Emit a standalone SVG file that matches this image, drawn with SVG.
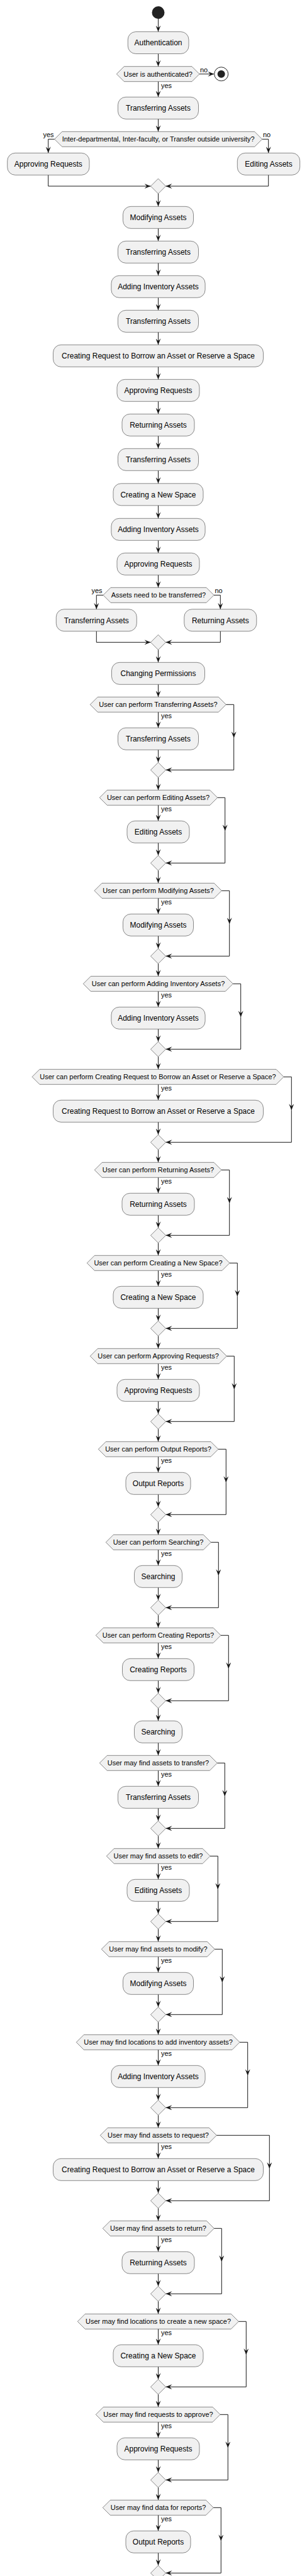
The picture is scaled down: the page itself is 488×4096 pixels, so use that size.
<svg xmlns="http://www.w3.org/2000/svg" width="488" height="4096" viewBox="0 0 488 4096">
<defs>
<style>
.b{fill:#F1F1F1;stroke:#181818;stroke-width:0.5}
.c{fill:none;stroke:#181818;stroke-width:1;marker-end:url(#a)}
text{font-family:"Liberation Sans",Arial,sans-serif;fill:#000000}
.t{font-size:12px;text-anchor:middle}
.q{font-size:11px;text-anchor:middle}
.l{font-size:11px}
.r{font-size:11px;text-anchor:end}
</style>
<marker id="a" viewBox="0 0 10 8" refX="10" refY="4" markerWidth="10" markerHeight="8" markerUnits="userSpaceOnUse" orient="auto"><path d="M0,0 L10,4 L0,8 L4,4 Z" fill="#181818"/></marker>
</defs>
<rect width="488" height="4096" fill="#FFFFFF"/>
<g id="connectors">
<path class="c" d="M251.5,30V50.5"/>
<path class="c" d="M251.5,85.5V105.7"/>
<path class="c" d="M317,117.7H340.4"/>
<path class="c" d="M251.5,129.7V154.3"/>
<path class="c" d="M251.5,189.3V209.3"/>
<path class="c" d="M86.7,221.3H76.7V243.3"/>
<path class="c" d="M416.7,221.3H426.7V243.3"/>
<path class="c" d="M76.7,278.3V296H239.5"/>
<path class="c" d="M426.7,278.3V296H263.5"/>
<path class="c" d="M251.5,308V328.3"/>
<path class="c" d="M251.5,363.3V383.3"/>
<path class="c" d="M251.5,418.3V438.3"/>
<path class="c" d="M251.5,473.3V493.3"/>
<path class="c" d="M251.5,528.3V548.3"/>
<path class="c" d="M251.5,583.3V603.3"/>
<path class="c" d="M251.5,638.3V658.3"/>
<path class="c" d="M251.5,693.3V713.3"/>
<path class="c" d="M251.5,748.3V768.8"/>
<path class="c" d="M251.5,803.8V824.3"/>
<path class="c" d="M251.5,859.3V879.3"/>
<path class="c" d="M251.5,914.3V934.3"/>
<path class="c" d="M164,946.3H153.3V968.7"/>
<path class="c" d="M340,946.3H350.3V968.7"/>
<path class="c" d="M153.3,1003.7V1021.3H239.5"/>
<path class="c" d="M350.3,1003.7V1021.3H263.5"/>
<path class="c" d="M251.5,1033.3V1053.3"/>
<path class="c" d="M251.5,1088.3V1108.3"/>
<path class="c" d="M251.5,1132.3V1157.3"/><path class="c" d="M251.5,1192.3V1212.3"/><path class="c" d="M359.3,1120.3H371.7V1173.3"/><path class="c" d="M371.7,1173.3V1224.3H263.5"/><path class="c" d="M251.5,1236.3V1256.3"/>
<path class="c" d="M251.5,1280.3V1305.3"/><path class="c" d="M251.5,1340.3V1360.3"/><path class="c" d="M345.7,1268.3H357.7V1321.3"/><path class="c" d="M357.7,1321.3V1372.3H263.5"/><path class="c" d="M251.5,1384.3V1404.3"/>
<path class="c" d="M251.5,1428.3V1453.3"/><path class="c" d="M251.5,1488.3V1508.3"/><path class="c" d="M352.3,1416.3H364.7V1469.3"/><path class="c" d="M364.7,1469.3V1520.3H263.5"/><path class="c" d="M251.5,1532.3V1552.3"/>
<path class="c" d="M251.5,1576.3V1601.3"/><path class="c" d="M251.5,1636.3V1656.3"/><path class="c" d="M370.3,1564.3H382.7V1617.3"/><path class="c" d="M382.7,1617.3V1668.3H263.5"/><path class="c" d="M251.5,1680.3V1700.3"/>
<path class="c" d="M251.5,1724.3V1749.3"/><path class="c" d="M251.5,1784.3V1804.3"/><path class="c" d="M451,1712.3H463.3V1765.3"/><path class="c" d="M463.3,1765.3V1816.3H263.5"/><path class="c" d="M251.5,1828.3V1848.3"/>
<path class="c" d="M251.5,1872.3V1897.3"/><path class="c" d="M251.5,1932.3V1952.3"/><path class="c" d="M352,1860.3H364.7V1913.3"/><path class="c" d="M364.7,1913.3V1964.3H263.5"/><path class="c" d="M251.5,1976.3V1996.3"/>
<path class="c" d="M251.5,2020.3V2045.3"/><path class="c" d="M251.5,2080.3V2100.3"/><path class="c" d="M365,2008.3H377.3V2061.3"/><path class="c" d="M377.3,2061.3V2112.3H263.5"/><path class="c" d="M251.5,2124.3V2144.3"/>
<path class="c" d="M251.5,2168.3V2193.3"/><path class="c" d="M251.5,2228.3V2248.3"/><path class="c" d="M360.3,2156.3H372.3V2209.3"/><path class="c" d="M372.3,2209.3V2260.3H263.5"/><path class="c" d="M251.5,2272.3V2292.3"/>
<path class="c" d="M251.5,2316.3V2341.3"/><path class="c" d="M251.5,2376.3V2396.3"/><path class="c" d="M347,2304.3H359.3V2357.3"/><path class="c" d="M359.3,2357.3V2408.3H263.5"/><path class="c" d="M251.5,2420.3V2440.3"/>
<path class="c" d="M251.5,2464.3V2489.3"/><path class="c" d="M251.5,2524.3V2544.3"/><path class="c" d="M335.3,2452.3H347.3V2505.3"/><path class="c" d="M347.3,2505.3V2556.3H263.5"/><path class="c" d="M251.5,2568.3V2588.3"/>
<path class="c" d="M251.5,2612.3V2637.3"/><path class="c" d="M251.5,2672.3V2692.3"/><path class="c" d="M351,2600.3H363.3V2653.3"/><path class="c" d="M363.3,2653.3V2704.3H263.5"/><path class="c" d="M251.5,2716.3V2736.3"/>
<path class="c" d="M251.5,2771.3V2791.3"/>
<path class="c" d="M251.5,2815.3V2840.3"/><path class="c" d="M251.5,2875.3V2895.3"/><path class="c" d="M345.3,2803.3H357.3V2856.3"/><path class="c" d="M357.3,2856.3V2907.3H263.5"/><path class="c" d="M251.5,2919.3V2939.3"/>
<path class="c" d="M251.5,2963.3V2988.3"/><path class="c" d="M251.5,3023.3V3043.3"/><path class="c" d="M334,2951.3H346.3V3004.3"/><path class="c" d="M346.3,3004.3V3055.3H263.5"/><path class="c" d="M251.5,3067.3V3087.3"/>
<path class="c" d="M251.5,3111.3V3136.3"/><path class="c" d="M251.5,3171.3V3191.3"/><path class="c" d="M341.3,3099.3H353.3V3152.3"/><path class="c" d="M353.3,3152.3V3203.3H263.5"/><path class="c" d="M251.5,3215.3V3235.3"/>
<path class="c" d="M251.5,3259.3V3284.3"/><path class="c" d="M251.5,3319.3V3339.3"/><path class="c" d="M381,3247.3H393.7V3300.3"/><path class="c" d="M393.7,3300.3V3351.3H263.5"/><path class="c" d="M251.5,3363.3V3383.3"/>
<path class="c" d="M251.5,3407.3V3432.3"/><path class="c" d="M251.5,3467.3V3487.3"/><path class="c" d="M344.3,3395.3H428.3V3448.3"/><path class="c" d="M428.3,3448.3V3499.3H263.5"/><path class="c" d="M251.5,3511.3V3531.3"/>
<path class="c" d="M251.5,3555.3V3580.3"/><path class="c" d="M251.5,3615.3V3635.3"/><path class="c" d="M340.3,3543.3H352.3V3596.3"/><path class="c" d="M352.3,3596.3V3647.3H263.5"/><path class="c" d="M251.5,3659.3V3679.3"/>
<path class="c" d="M251.5,3703.3V3728.3"/><path class="c" d="M251.5,3763.3V3783.3"/><path class="c" d="M379.3,3691.3H391.3V3744.3"/><path class="c" d="M391.3,3744.3V3795.3H263.5"/><path class="c" d="M251.5,3807.3V3827.3"/>
<path class="c" d="M251.5,3851.3V3876.3"/><path class="c" d="M251.5,3911.3V3931.3"/><path class="c" d="M350,3839.3H362.3V3892.3"/><path class="c" d="M362.3,3892.3V3943.3H263.5"/><path class="c" d="M251.5,3955.3V3975.3"/>
<path class="c" d="M251.5,3999.3V4024.3"/><path class="c" d="M251.5,4059.3V4079.3"/><path class="c" d="M339.3,3987.3H351.3V4040.3"/><path class="c" d="M351.3,4040.3V4091.3H263.5"/>
<text class="l" x="318" y="114.5">no</text>
<text class="l" x="256" y="139.5">yes</text>
<text class="r" x="85.5" y="218.3">yes</text>
<text class="l" x="418" y="218.3">no</text>
<text class="r" x="162.5" y="943.3">yes</text>
<text class="l" x="341.5" y="943.3">no</text>
<text class="l" x="256" y="1142.3">yes</text>
<text class="l" x="256" y="1290.3">yes</text>
<text class="l" x="256" y="1438.3">yes</text>
<text class="l" x="256" y="1586.3">yes</text>
<text class="l" x="256" y="1734.3">yes</text>
<text class="l" x="256" y="1882.3">yes</text>
<text class="l" x="256" y="2030.3">yes</text>
<text class="l" x="256" y="2178.3">yes</text>
<text class="l" x="256" y="2326.3">yes</text>
<text class="l" x="256" y="2474.3">yes</text>
<text class="l" x="256" y="2622.3">yes</text>
<text class="l" x="256" y="2825.3">yes</text>
<text class="l" x="256" y="2973.3">yes</text>
<text class="l" x="256" y="3121.3">yes</text>
<text class="l" x="256" y="3269.3">yes</text>
<text class="l" x="256" y="3417.3">yes</text>
<text class="l" x="256" y="3565.3">yes</text>
<text class="l" x="256" y="3713.3">yes</text>
<text class="l" x="256" y="3861.3">yes</text>
<text class="l" x="256" y="4009.3">yes</text>
</g>
<g id="start"><circle cx="251.5" cy="20" r="10" fill="#222222"/></g>
<g id="stop"><circle cx="351.7" cy="117.7" r="11" fill="none" stroke="#222222" stroke-width="1"/><circle cx="351.7" cy="117.7" r="6" fill="#222222"/></g>
<g id="n_auth"><rect class="b" x="203.3" y="50.5" width="96.7" height="35" rx="12.5"/><text class="t" x="251.5" y="72.3">Authentication</text></g>
<g id="d_auth"><polygon class="b" points="185.3,117.7 197.3,105.7 305,105.7 317,117.7 305,129.7 197.3,129.7"/><text class="q" x="251.2" y="121.5">User is authenticated?</text></g>
<g id="n_tr1"><rect class="b" x="187.5" y="154.3" width="128" height="35" rx="12.5"/><text class="t" x="251.5" y="176.1">Transferring Assets</text></g>
<g id="d_inter"><polygon class="b" points="86.7,221.3 98.7,209.3 404.7,209.3 416.7,221.3 404.7,233.3 98.7,233.3"/><text class="q" x="251.7" y="225.1">Inter-departmental, Inter-faculty, or Transfer outside university?</text></g>
<g id="n_ap1"><rect class="b" x="11.7" y="243.3" width="130.3" height="35" rx="12.5"/><text class="t" x="76.8" y="265.1">Approving Requests</text></g>
<g id="n_ed1"><rect class="b" x="377.3" y="243.3" width="99.4" height="35" rx="12.5"/><text class="t" x="427" y="265.1">Editing Assets</text></g>
<g id="m_inter"><polygon class="b" points="251.5,284 263.5,296 251.5,308 239.5,296"/></g>
<g id="n_mod1"><rect class="b" x="195.5" y="328.3" width="112" height="35" rx="12.5"/><text class="t" x="251.5" y="350.1">Modifying Assets</text></g>
<g id="n_tr2"><rect class="b" x="187.5" y="383.3" width="128" height="35" rx="12.5"/><text class="t" x="251.5" y="405.1">Transferring Assets</text></g>
<g id="n_add1"><rect class="b" x="176.9" y="438.3" width="149.2" height="35" rx="12.5"/><text class="t" x="251.5" y="460.1">Adding Inventory Assets</text></g>
<g id="n_tr3"><rect class="b" x="187.5" y="493.3" width="128" height="35" rx="12.5"/><text class="t" x="251.5" y="515.1">Transferring Assets</text></g>
<g id="n_cr1"><rect class="b" x="84.5" y="548.3" width="334" height="35" rx="12.5"/><text class="t" x="251.5" y="570.1">Creating Request to Borrow an Asset or Reserve a Space</text></g>
<g id="n_ap2"><rect class="b" x="186" y="603.3" width="131" height="35" rx="12.5"/><text class="t" x="251.5" y="625.1">Approving Requests</text></g>
<g id="n_ret1"><rect class="b" x="194" y="658.3" width="115" height="35" rx="12.5"/><text class="t" x="251.5" y="680.1">Returning Assets</text></g>
<g id="n_tr4"><rect class="b" x="187.5" y="713.3" width="128" height="35" rx="12.5"/><text class="t" x="251.5" y="735.1">Transferring Assets</text></g>
<g id="n_new1"><rect class="b" x="180" y="768.8" width="143" height="35" rx="12.5"/><text class="t" x="251.5" y="790.6">Creating a New Space</text></g>
<g id="n_add2"><rect class="b" x="176.9" y="824.3" width="149.2" height="35" rx="12.5"/><text class="t" x="251.5" y="846.1">Adding Inventory Assets</text></g>
<g id="n_ap3"><rect class="b" x="186" y="879.3" width="131" height="35" rx="12.5"/><text class="t" x="251.5" y="901.1">Approving Requests</text></g>
<g id="d_need"><polygon class="b" points="164,946.3 176,934.3 328,934.3 340,946.3 328,958.3 176,958.3"/><text class="q" x="252" y="950.1">Assets need to be transferred?</text></g>
<g id="n_tr5"><rect class="b" x="89.3" y="968.7" width="128" height="35" rx="12.5"/><text class="t" x="153.3" y="990.5">Transferring Assets</text></g>
<g id="n_ret2"><rect class="b" x="292.8" y="968.7" width="115" height="35" rx="12.5"/><text class="t" x="350.3" y="990.5">Returning Assets</text></g>
<g id="m_need"><polygon class="b" points="251.5,1009.3 263.5,1021.3 251.5,1033.3 239.5,1021.3"/></g>
<g id="n_perm"><rect class="b" x="177.5" y="1053.3" width="148" height="35" rx="12.5"/><text class="t" x="251.5" y="1075.1">Changing Permissions</text></g>
<g id="d_a0"><polygon class="b" points="143.3,1120.3 155.3,1108.3 347.3,1108.3 359.3,1120.3 347.3,1132.3 155.3,1132.3"/><text class="q" x="251.5" y="1124.1">User can perform Transferring Assets?</text></g>
<g id="n_a0"><rect class="b" x="187.5" y="1157.3" width="128" height="35" rx="12.5"/><text class="t" x="251.5" y="1179.1">Transferring Assets</text></g>
<g id="m_a0"><polygon class="b" points="251.5,1212.3 263.5,1224.3 251.5,1236.3 239.5,1224.3"/></g>
<g id="d_a1"><polygon class="b" points="158.3,1268.3 170.3,1256.3 333.7,1256.3 345.7,1268.3 333.7,1280.3 170.3,1280.3"/><text class="q" x="251.5" y="1272.1">User can perform Editing Assets?</text></g>
<g id="n_a1"><rect class="b" x="202" y="1305.3" width="99" height="35" rx="12.5"/><text class="t" x="251.5" y="1327.1">Editing Assets</text></g>
<g id="m_a1"><polygon class="b" points="251.5,1360.3 263.5,1372.3 251.5,1384.3 239.5,1372.3"/></g>
<g id="d_a2"><polygon class="b" points="150,1416.3 162,1404.3 340.3,1404.3 352.3,1416.3 340.3,1428.3 162,1428.3"/><text class="q" x="251.5" y="1420.1">User can perform Modifying Assets?</text></g>
<g id="n_a2"><rect class="b" x="195.5" y="1453.3" width="112" height="35" rx="12.5"/><text class="t" x="251.5" y="1475.1">Modifying Assets</text></g>
<g id="m_a2"><polygon class="b" points="251.5,1508.3 263.5,1520.3 251.5,1532.3 239.5,1520.3"/></g>
<g id="d_a3"><polygon class="b" points="132.3,1564.3 144.3,1552.3 358.3,1552.3 370.3,1564.3 358.3,1576.3 144.3,1576.3"/><text class="q" x="251.5" y="1568.1">User can perform Adding Inventory Assets?</text></g>
<g id="n_a3"><rect class="b" x="176.9" y="1601.3" width="149.2" height="35" rx="12.5"/><text class="t" x="251.5" y="1623.1">Adding Inventory Assets</text></g>
<g id="m_a3"><polygon class="b" points="251.5,1656.3 263.5,1668.3 251.5,1680.3 239.5,1668.3"/></g>
<g id="d_a4"><polygon class="b" points="51,1712.3 63,1700.3 439,1700.3 451,1712.3 439,1724.3 63,1724.3"/><text class="q" x="251" y="1716.1">User can perform Creating Request to Borrow an Asset or Reserve a Space?</text></g>
<g id="n_a4"><rect class="b" x="84.5" y="1749.3" width="334" height="35" rx="12.5"/><text class="t" x="251.5" y="1771.1">Creating Request to Borrow an Asset or Reserve a Space</text></g>
<g id="m_a4"><polygon class="b" points="251.5,1804.3 263.5,1816.3 251.5,1828.3 239.5,1816.3"/></g>
<g id="d_a5"><polygon class="b" points="150.3,1860.3 162.3,1848.3 340,1848.3 352,1860.3 340,1872.3 162.3,1872.3"/><text class="q" x="251.5" y="1864.1">User can perform Returning Assets?</text></g>
<g id="n_a5"><rect class="b" x="194" y="1897.3" width="115" height="35" rx="12.5"/><text class="t" x="251.5" y="1919.1">Returning Assets</text></g>
<g id="m_a5"><polygon class="b" points="251.5,1952.3 263.5,1964.3 251.5,1976.3 239.5,1964.3"/></g>
<g id="d_a6"><polygon class="b" points="138.3,2008.3 150.3,1996.3 353,1996.3 365,2008.3 353,2020.3 150.3,2020.3"/><text class="q" x="251.5" y="2012.1">User can perform Creating a New Space?</text></g>
<g id="n_a6"><rect class="b" x="180" y="2045.3" width="143" height="35" rx="12.5"/><text class="t" x="251.5" y="2067.1">Creating a New Space</text></g>
<g id="m_a6"><polygon class="b" points="251.5,2100.3 263.5,2112.3 251.5,2124.3 239.5,2112.3"/></g>
<g id="d_a7"><polygon class="b" points="143.3,2156.3 155.3,2144.3 348.3,2144.3 360.3,2156.3 348.3,2168.3 155.3,2168.3"/><text class="q" x="251.5" y="2160.1">User can perform Approving Requests?</text></g>
<g id="n_a7"><rect class="b" x="186" y="2193.3" width="131" height="35" rx="12.5"/><text class="t" x="251.5" y="2215.1">Approving Requests</text></g>
<g id="m_a7"><polygon class="b" points="251.5,2248.3 263.5,2260.3 251.5,2272.3 239.5,2260.3"/></g>
<g id="d_a8"><polygon class="b" points="156.3,2304.3 168.3,2292.3 335,2292.3 347,2304.3 335,2316.3 168.3,2316.3"/><text class="q" x="251.5" y="2308.1">User can perform Output Reports?</text></g>
<g id="n_a8"><rect class="b" x="200" y="2341.3" width="103" height="35" rx="12.5"/><text class="t" x="251.5" y="2363.1">Output Reports</text></g>
<g id="m_a8"><polygon class="b" points="251.5,2396.3 263.5,2408.3 251.5,2420.3 239.5,2408.3"/></g>
<g id="d_a9"><polygon class="b" points="168.3,2452.3 180.3,2440.3 323.3,2440.3 335.3,2452.3 323.3,2464.3 180.3,2464.3"/><text class="q" x="251.5" y="2456.1">User can perform Searching?</text></g>
<g id="n_a9"><rect class="b" x="213.5" y="2489.3" width="76" height="35" rx="12.5"/><text class="t" x="251.5" y="2511.1">Searching</text></g>
<g id="m_a9"><polygon class="b" points="251.5,2544.3 263.5,2556.3 251.5,2568.3 239.5,2556.3"/></g>
<g id="d_a10"><polygon class="b" points="152.3,2600.3 164.3,2588.3 339,2588.3 351,2600.3 339,2612.3 164.3,2612.3"/><text class="q" x="251.5" y="2604.1">User can perform Creating Reports?</text></g>
<g id="n_a10"><rect class="b" x="194.5" y="2637.3" width="114" height="35" rx="12.5"/><text class="t" x="251.5" y="2659.1">Creating Reports</text></g>
<g id="m_a10"><polygon class="b" points="251.5,2692.3 263.5,2704.3 251.5,2716.3 239.5,2704.3"/></g>
<g id="n_search"><rect class="b" x="213.5" y="2736.3" width="76" height="35" rx="12.5"/><text class="t" x="251.5" y="2758.1">Searching</text></g>
<g id="d_b0"><polygon class="b" points="158.3,2803.3 170.3,2791.3 333.3,2791.3 345.3,2803.3 333.3,2815.3 170.3,2815.3"/><text class="q" x="251.5" y="2807.1">User may find assets to transfer?</text></g>
<g id="n_b0"><rect class="b" x="187.5" y="2840.3" width="128" height="35" rx="12.5"/><text class="t" x="251.5" y="2862.1">Transferring Assets</text></g>
<g id="m_b0"><polygon class="b" points="251.5,2895.3 263.5,2907.3 251.5,2919.3 239.5,2907.3"/></g>
<g id="d_b1"><polygon class="b" points="169.3,2951.3 181.3,2939.3 322,2939.3 334,2951.3 322,2963.3 181.3,2963.3"/><text class="q" x="251.5" y="2955.1">User may find assets to edit?</text></g>
<g id="n_b1"><rect class="b" x="202" y="2988.3" width="99" height="35" rx="12.5"/><text class="t" x="251.5" y="3010.1">Editing Assets</text></g>
<g id="m_b1"><polygon class="b" points="251.5,3043.3 263.5,3055.3 251.5,3067.3 239.5,3055.3"/></g>
<g id="d_b2"><polygon class="b" points="161.3,3099.3 173.3,3087.3 329.3,3087.3 341.3,3099.3 329.3,3111.3 173.3,3111.3"/><text class="q" x="251.5" y="3103.1">User may find assets to modify?</text></g>
<g id="n_b2"><rect class="b" x="195.5" y="3136.3" width="112" height="35" rx="12.5"/><text class="t" x="251.5" y="3158.1">Modifying Assets</text></g>
<g id="m_b2"><polygon class="b" points="251.5,3191.3 263.5,3203.3 251.5,3215.3 239.5,3203.3"/></g>
<g id="d_b3"><polygon class="b" points="121.3,3247.3 133.3,3235.3 369,3235.3 381,3247.3 369,3259.3 133.3,3259.3"/><text class="q" x="251.5" y="3251.1">User may find locations to add inventory assets?</text></g>
<g id="n_b3"><rect class="b" x="176.9" y="3284.3" width="149.2" height="35" rx="12.5"/><text class="t" x="251.5" y="3306.1">Adding Inventory Assets</text></g>
<g id="m_b3"><polygon class="b" points="251.5,3339.3 263.5,3351.3 251.5,3363.3 239.5,3351.3"/></g>
<g id="d_b4"><polygon class="b" points="159.3,3395.3 171.3,3383.3 332.3,3383.3 344.3,3395.3 332.3,3407.3 171.3,3407.3"/><text class="q" x="251.5" y="3399.1">User may find assets to request?</text></g>
<g id="n_b4"><rect class="b" x="84.5" y="3432.3" width="334" height="35" rx="12.5"/><text class="t" x="251.5" y="3454.1">Creating Request to Borrow an Asset or Reserve a Space</text></g>
<g id="m_b4"><polygon class="b" points="251.5,3487.3 263.5,3499.3 251.5,3511.3 239.5,3499.3"/></g>
<g id="d_b5"><polygon class="b" points="163.3,3543.3 175.3,3531.3 328.3,3531.3 340.3,3543.3 328.3,3555.3 175.3,3555.3"/><text class="q" x="251.5" y="3547.1">User may find assets to return?</text></g>
<g id="n_b5"><rect class="b" x="194" y="3580.3" width="115" height="35" rx="12.5"/><text class="t" x="251.5" y="3602.1">Returning Assets</text></g>
<g id="m_b5"><polygon class="b" points="251.5,3635.3 263.5,3647.3 251.5,3659.3 239.5,3647.3"/></g>
<g id="d_b6"><polygon class="b" points="123.3,3691.3 135.3,3679.3 367.3,3679.3 379.3,3691.3 367.3,3703.3 135.3,3703.3"/><text class="q" x="251.5" y="3695.1">User may find locations to create a new space?</text></g>
<g id="n_b6"><rect class="b" x="180" y="3728.3" width="143" height="35" rx="12.5"/><text class="t" x="251.5" y="3750.1">Creating a New Space</text></g>
<g id="m_b6"><polygon class="b" points="251.5,3783.3 263.5,3795.3 251.5,3807.3 239.5,3795.3"/></g>
<g id="d_b7"><polygon class="b" points="152.3,3839.3 164.3,3827.3 338,3827.3 350,3839.3 338,3851.3 164.3,3851.3"/><text class="q" x="251.5" y="3843.1">User may find requests to approve?</text></g>
<g id="n_b7"><rect class="b" x="186" y="3876.3" width="131" height="35" rx="12.5"/><text class="t" x="251.5" y="3898.1">Approving Requests</text></g>
<g id="m_b7"><polygon class="b" points="251.5,3931.3 263.5,3943.3 251.5,3955.3 239.5,3943.3"/></g>
<g id="d_b8"><polygon class="b" points="163.3,3987.3 175.3,3975.3 327.3,3975.3 339.3,3987.3 327.3,3999.3 175.3,3999.3"/><text class="q" x="251.5" y="3991.1">User may find data for reports?</text></g>
<g id="n_b8"><rect class="b" x="200" y="4024.3" width="103" height="35" rx="12.5"/><text class="t" x="251.5" y="4046.1">Output Reports</text></g>
<g id="m_b8"><polygon class="b" points="251.5,4079.3 263.5,4091.3 251.5,4103.3 239.5,4091.3"/></g>
</svg>
